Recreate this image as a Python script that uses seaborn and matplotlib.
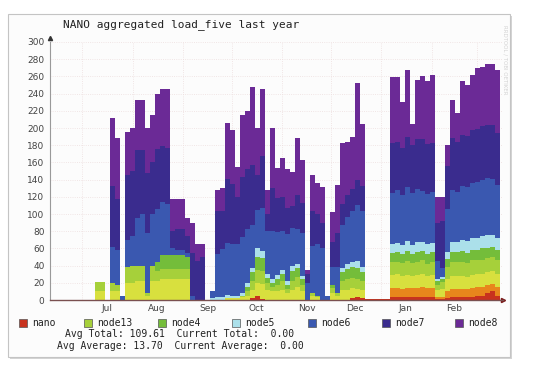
import numpy as np
import pandas as pd
import seaborn as sns
import matplotlib.pyplot as plt
from matplotlib.patches import Rectangle

# ~3 day consolidation steps, Jun 2013 -> Mar 2014
edges = pd.date_range("2013-06-11", "2014-03-15", periods=91)

nano = [0, 0, 0, 0, 0, 0, 0, 0, 0, 0,
        0, 0, 0, 0, 0, 0, 0, 0, 0, 0,
        0, 0, 0, 0, 0, 0, 0, 0, 0, 0,
        0, 0, 0, 0, 0, 0, 0, 0, 0, 0,
        2, 5, 1, 0, 0, 0, 0, 0, 0, 0,
        0, 0, 0, 0, 0, 0, 0, 0, 0, 0,
        2, 3, 2, 1, 1, 1, 1, 1, 3, 3,
        3, 3, 3, 3, 3, 3, 3, 1, 1, 2,
        3, 3, 3, 3, 4, 5, 5, 8, 10, 5]
node1 = [0] * 68 + [11, 11,
         10, 11, 11, 11, 12, 11, 11, 3, 2, 8,
         10, 10, 10, 10, 10, 10, 10, 10, 9, 10]
node12 = [0, 0, 0, 0, 0, 0, 0, 0, 0, 11,
          11, 0, 10, 10, 0, 20, 20, 22, 22, 5,
          22, 22, 24, 24, 24, 24, 24, 24, 0, 0,
          0, 0, 0, 0, 0, 2, 2, 2, 3, 5,
          10, 15, 18, 12, 10, 10, 12, 8, 12, 15,
          10, 0, 5, 3, 0, 0, 8, 5, 12, 12,
          12, 10, 10, 0, 0, 0, 0, 0, 15, 16,
          15, 15, 14, 15, 15, 14, 15, 8, 10, 14,
          15, 15, 15, 14, 15, 15, 15, 15, 15, 15]
node13 = [0, 0, 0, 0, 0, 0, 0, 0, 0, 10,
          10, 0, 10, 8, 0, 18, 20, 18, 18, 3,
          18, 12, 12, 12, 12, 12, 12, 12, 0, 0,
          0, 0, 0, 0, 0, 0, 0, 0, 2, 5,
          10, 15, 15, 8, 5, 8, 10, 5, 10, 12,
          8, 0, 3, 2, 0, 0, 6, 3, 10, 12,
          12, 12, 10, 0, 0, 0, 0, 0, 15, 14,
          15, 16, 15, 15, 16, 14, 15, 6, 8, 14,
          16, 16, 16, 16, 17, 16, 17, 16, 16, 16]
node4 = [0] * 20 + [
         0, 10, 16, 16, 16, 16, 16, 14, 0, 0,
         0, 0, 0, 0, 0, 0, 0, 0, 0, 5,
         10, 15, 15, 6, 5, 6, 8, 5, 12, 10,
         6, 0, 0, 0, 0, 0, 4, 0, 10, 12,
         12, 12, 10, 0, 0, 0, 0, 0, 11, 12,
         11, 12, 11, 12, 11, 11, 12, 4, 4, 10,
         12, 12, 13, 12, 12, 12, 13, 12, 12, 12]
node5 = [0] * 30 + [
         0, 0, 2, 4, 4, 4, 3, 3, 3, 5,
         5, 10, 8, 4, 5, 5, 5, 4, 5, 5,
         4, 0, 0, 0, 0, 0, 0, 0, 5, 6,
         6, 8, 6, 0, 0, 0, 0, 0, 10, 10,
         10, 12, 10, 11, 10, 12, 10, 3, 2, 8,
         12, 12, 13, 14, 14, 14, 15, 15, 14, 14]
node6 = [0, 0, 0, 0, 0, 0, 0, 0, 0, 0,
         0, 0, 42, 40, 5, 32, 35, 55, 60, 70,
         60, 62, 62, 60, 8, 6, 6, 5, 5, 0,
         0, 0, 8, 50, 55, 60, 60, 60, 65, 62,
         50, 45, 50, 50, 55, 50, 45, 55, 45, 40,
         50, 20, 55, 60, 60, 5, 20, 30, 50, 55,
         60, 65, 65, 0, 0, 0, 0, 0, 60, 62,
         58, 62, 60, 62, 60, 58, 60, 20, 10, 50,
         60, 58, 62, 62, 64, 65, 65, 66, 65, 62]
node7 = [0, 0, 0, 0, 0, 0, 0, 0, 0, 0,
         0, 0, 70, 60, 0, 75, 75, 80, 75, 70,
         60, 70, 65, 65, 20, 25, 25, 20, 50, 45,
         50, 0, 0, 50, 45, 75, 70, 55, 70, 70,
         70, 40, 60, 20, 50, 40, 40, 30, 25, 40,
         35, 10, 40, 35, 30, 0, 30, 40, 25, 25,
         25, 30, 30, 0, 0, 0, 0, 0, 58, 56,
         55, 58, 56, 58, 60, 58, 56, 45, 55, 50,
         60, 58, 60, 60, 62, 62, 62, 62, 62, 60]
node8 = [0, 0, 0, 0, 0, 0, 0, 0, 0, 0,
         0, 0, 80, 70, 0, 50, 50, 58, 58, 52,
         55, 64, 66, 68, 38, 35, 35, 20, 35, 20,
         15, 0, 0, 24, 26, 65, 63, 35, 72, 68,
         91, 55, 78, 28, 70, 35, 45, 45, 40, 66,
         50, 5, 42, 36, 41, 0, 34, 56, 70, 62,
         61, 112, 72, 0, 0, 0, 0, 0, 76, 75,
         53, 78, 25, 69, 74, 74, 80, 30, 28, 24,
         45, 33, 63, 59, 64, 71, 69, 71, 72, 74]

layers = [
    ("nano", nano, "#c8321e"),
    (None, node1, "#e8861c"),
    (None, node12, "#d8e03e"),
    ("node13", node13, "#a6d03a"),
    ("node4", node4, "#74bd3a"),
    ("node5", node5, "#abe0ea"),
    ("node6", node6, "#3a58b0"),
    ("node7", node7, "#3a2c8e"),
    ("node8", node8, "#6b2a96"),
]

month_starts = pd.to_datetime(["2013-07-01", "2013-08-01", "2013-09-01", "2013-10-01",
                               "2013-11-01", "2013-12-01", "2014-01-01", "2014-02-01",
                               "2014-03-01"])
label_days = pd.to_datetime(["2013-07-16", "2013-08-16", "2013-09-16", "2013-10-16",
                             "2013-11-16", "2013-12-16", "2014-01-16", "2014-02-15"])
month_labels = ["Jul", "Aug", "Sep", "Oct", "Nov", "Dec", "Jan", "Feb"]

sns.set_theme(style="white")
plt.rcParams["font.family"] = ["DejaVu Sans"]
mono = "DejaVu Sans Mono"

W, H = 538, 370
fig = plt.figure(figsize=(W / 100, H / 100), dpi=100)
fig.patch.set_facecolor("white")

# panel with shadow (kept behind the axes)
fig.patches.append(Rectangle((10 / W, 1 - 359 / H), 502 / W, 343 / H, transform=fig.transFigure,
                             facecolor="#d4d4d4", edgecolor="none", zorder=-3))
fig.patches.append(Rectangle((8 / W, 1 - 357 / H), 502 / W, 343 / H, transform=fig.transFigure,
                             facecolor="#fcfcfc", edgecolor="#c4c4c4", lw=0.8, zorder=-2))

ax = fig.add_axes([50 / W, 1 - 300 / H, 453 / W, 258 / H])
ax.set_zorder(1)
ax.set_facecolor("none")

# stacked areas: paint each cumulative total from 0, top layer first, so no seams
x = edges.to_pydatetime()
tops = np.cumsum([np.append(v, v[-1]) for _, v, _ in layers], axis=0).astype(float)
for k in range(len(layers) - 1, -1, -1):
    col = layers[k][2]
    ax.fill_between(x, 0, tops[k], step="post", color=col, lw=0,
                    zorder=2 + (len(layers) - k) * 0.01)

ax.set_ylim(0, 300)
ax.set_xlim(pd.Timestamp("2013-06-11"), pd.Timestamp("2014-03-17"))
ax.set_yticks(range(0, 301, 20))
ax.tick_params(axis="y", labelsize=6.5, labelcolor="#444444", length=2, width=0.5,
               color="#999999", pad=2)
ax.set_xticks(month_starts)
ax.set_xticklabels([""] * len(month_starts))
ax.set_xticks(label_days, minor=True)
ax.set_xticklabels(month_labels, minor=True)
ax.tick_params(axis="x", which="both", length=0, labelsize=6.5, labelcolor="#444444", pad=3)
ax.grid(True, which="major", color="#eddede", ls=":", lw=0.6, zorder=0)

for s in ["top", "right"]:
    ax.spines[s].set_visible(False)
ax.spines["left"].set_color("#999999")
ax.spines["left"].set_linewidth(0.8)
ax.spines["bottom"].set_color("#7a5050")
ax.spines["bottom"].set_linewidth(1.0)
ax.spines["bottom"].set_zorder(5)
ax.plot([0], [1.015], marker="^", ms=3, color="#333333", transform=ax.transAxes, clip_on=False)
ax.plot([1.0], [0], marker=">", ms=3, color="#7a1a1a", transform=ax.transAxes, clip_on=False)

fig.text(63 / W, 1 - 25 / H, "NANO aggregated load_five last year", family=mono,
         fontsize=8, va="center", color="#222222")
fig.text(505 / W, 1 - 60 / H, "RRDTOOL / TOBI OETIKER", rotation=270, fontsize=4,
         color="#d2d2d2", va="center", ha="center")

# legend row
legend_x = [19, 84, 158, 232, 308, 382, 455]
names = [(n, c) for n, _, c in layers if n is not None]
for (n, c), lx in zip(names, legend_x):
    fig.patches.append(Rectangle((lx / W, 1 - 327 / H), 8 / W, 8 / H, transform=fig.transFigure,
                                 facecolor=c, edgecolor="#555555", lw=0.5, zorder=2))
    fig.text((lx + 13) / W, 1 - 323 / H, n, family=mono, fontsize=7, va="center", color="#222222")

fig.text(65 / W, 1 - 334 / H, "Avg Total: 109.61  Current Total:  0.00", family=mono,
         fontsize=7, va="center", color="#222222")
fig.text(57 / W, 1 - 346 / H, "Avg Average: 13.70  Current Average:  0.00", family=mono,
         fontsize=7, va="center", color="#222222")

fig.savefig("out.png", dpi=100)
